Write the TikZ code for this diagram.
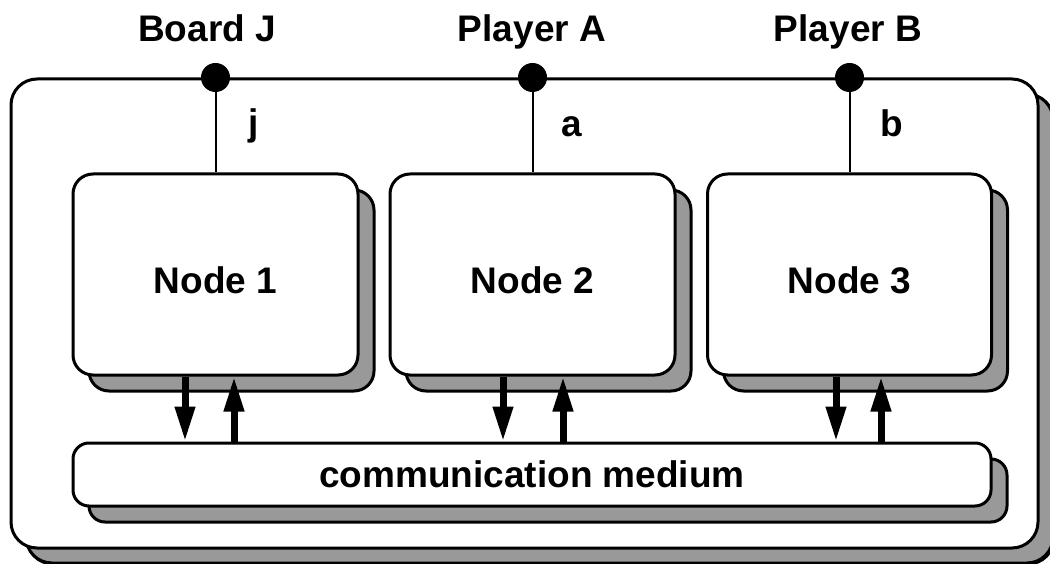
\documentclass[tikz,border=0pt]{standalone}
\usepackage{fontspec}
\setmainfont{Liberation Sans}
\usetikzlibrary{arrows.meta,shadows}
\definecolor{shadowgrey}{HTML}{999999}
\tikzset{
  lbl/.style={font=\fontsize{37}{44}\bfseries\selectfont, inner sep=0pt},
  panel/.style={draw=black, line width=3pt, fill=white, rounded corners=#1,
    inner sep=0pt,
    general shadow={shadow xshift=16pt, shadow yshift=-16pt,
      fill=shadowgrey, draw=black, line width=3pt}},
  panel/.default=20pt,
  wire/.style={line width=2pt},
  pin/.style={circle, fill=black, inner sep=0pt, minimum size=29pt},
  flow/.style={line width=7pt, -{Triangle[width=19pt 0 0,length=35pt 0 0]}}
}
\begin{document}
\begin{tikzpicture}[x=1pt,y=-1pt]
  \useasboundingbox (0,0) rectangle (1050,564);

  % enclosing system
  \node[panel=26pt, general shadow={shadow xshift=15pt, shadow yshift=-15pt,
      fill=shadowgrey, draw=black, line width=3pt},
    minimum width=1027pt, minimum height=469pt] (sys) at (524.5,313.5) {};

  % processing nodes and the shared medium
  \node[panel, minimum width=285pt, minimum height=201pt] (n1) at (215.5,274.5) {};
  \node[panel, minimum width=285pt, minimum height=201pt] (n2) at (532.5,274.5) {};
  \node[panel, minimum width=284pt, minimum height=201pt] (n3) at (849.5,274.5) {};
  \node[panel=16pt, minimum width=918pt, minimum height=63pt] (cm) at (532,474.5) {};

  \node[lbl] (t1) at (215.5,280) {Node 1};
  \node[lbl] (t2) at (532.5,280) {Node 2};
  \node[lbl] (t3) at (849.5,280) {Node 3};
  \node[lbl] (tcm) at (532,474.5) {communication medium};

  % external ports on the top edge
  \coordinate (pj) at (n1.north |- sys.north);
  \coordinate (pa) at (n2.north |- sys.north);
  \coordinate (pb) at (n3.north |- sys.north);
  \draw[wire] (pj) -- (n1.north);
  \draw[wire] (pa) -- (n2.north);
  \draw[wire] (pb) -- (n3.north);
  \node[pin] (dj) at (pj) {};
  \node[pin] (da) at (pa) {};
  \node[pin] (db) at (pb) {};

  \node[lbl, anchor=base] (lj) at (207,42) {Board J};
  \node[lbl, anchor=base] (la) at (532,42) {Player A};
  \node[lbl, anchor=base] (lb) at (848,42) {Player B};
  \node[lbl, anchor=base] (sj) at (254,136) {j};
  \node[lbl, anchor=base] (sa) at (572,137) {a};
  \node[lbl, anchor=base] (sb) at (892,137) {b};

  % traffic between nodes and medium
  \draw[flow] ([xshift=-30.5pt]n1.south) -- ([xshift=-30.5pt]n1.south |- cm.north);
  \draw[flow] ([xshift=18.5pt]n1.south |- cm.north) -- ([xshift=18.5pt]n1.south);
  \draw[flow] ([xshift=-29.5pt]n2.south) -- ([xshift=-29.5pt]n2.south |- cm.north);
  \draw[flow] ([xshift=30.5pt]n2.south |- cm.north) -- ([xshift=30.5pt]n2.south);
  \draw[flow] ([xshift=-13.5pt]n3.south) -- ([xshift=-13.5pt]n3.south |- cm.north);
  \draw[flow] ([xshift=31.5pt]n3.south |- cm.north) -- ([xshift=31.5pt]n3.south);
\end{tikzpicture}
\end{document}
